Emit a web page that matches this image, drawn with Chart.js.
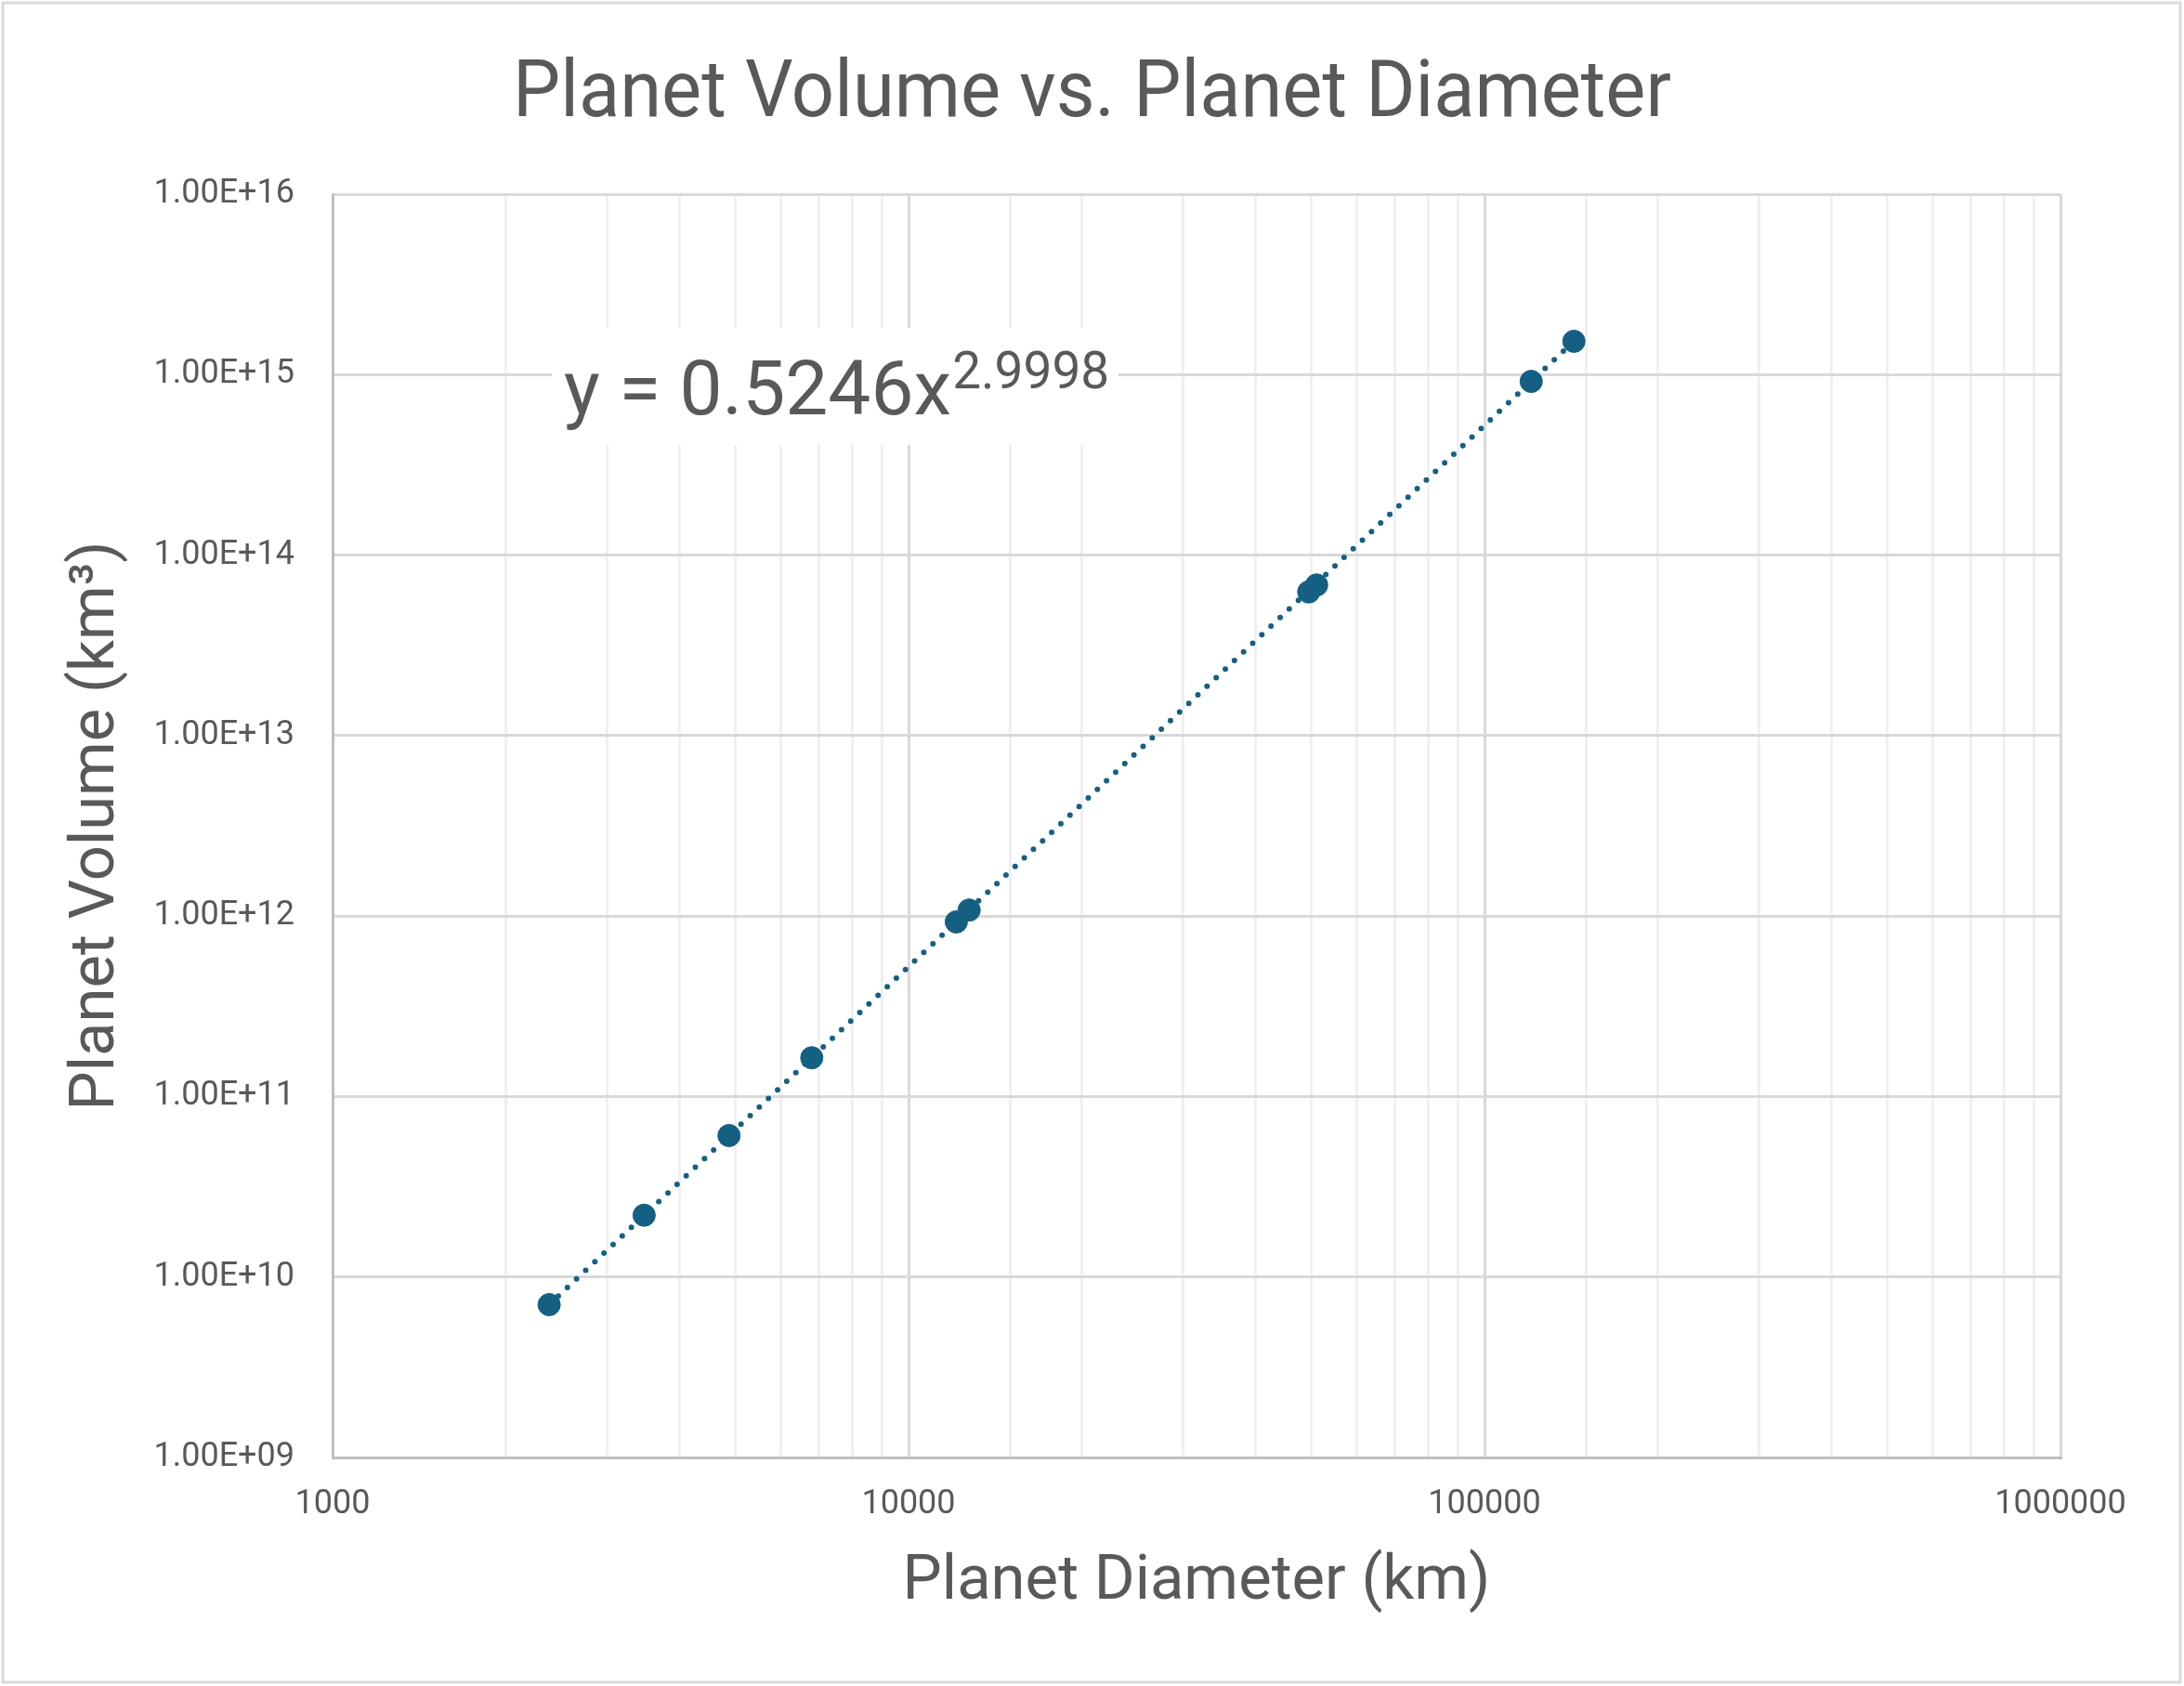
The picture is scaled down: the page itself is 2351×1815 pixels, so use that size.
<!DOCTYPE html>
<html>
<head>
<meta charset="utf-8">
<script src="https://cdn.jsdelivr.net/npm/chart.js@4"></script>
<style>
  html, body { margin: 0; padding: 0; background: #fff; }
  #wrap { width: 2351px; height: 1815px; position: relative; }
</style>
</head>
<body>
<div id="wrap"><canvas id="planetChart"></canvas></div>
<script>
// planets: Pluto, Moon, Mercury, Mars, Venus, Earth, Neptune, Uranus, Saturn, Jupiter
const diameters = [2377, 3475, 4879, 6792, 12104, 12742, 49528, 51118, 120536, 142984];
const volumes = [7.03e9, 2.2e10, 6.08e10, 1.64e11, 9.28e11, 1.08e12, 6.25e13, 6.83e13, 9.17e14, 1.53e15];

// power trendline ends
const trendX = [2377, 142984];
const trendY = [7.03e9, 1.53e15];

const yTicks = [1e9, 1e10, 1e11, 1e12, 1e13, 1e14, 1e15, 1e16];
const xDecades = [1000, 10000, 100000, 1000000];

const chartTitle = 'Planet Volume vs. Planet Diameter';
const equationText = 'y = 0.5246x';
const equationPower = '2.9998';

const textColor = '#595959';
const markColor = '#156082';

function isDecade(v) {
    return xDecades.indexOf(v) !== -1;
}

function sciLabel(v) {
    let exp = Math.round(Math.log10(v));
    let e = exp < 10 ? '0' + exp : '' + exp;
    return '1.00E+' + e;
}

const frame = {
    id: 'frame',
    beforeDraw(chart) {
        let ctx = chart.ctx;
        ctx.save();
        ctx.fillStyle = '#fff';
        ctx.fillRect(0, 0, chart.width, chart.height);
        ctx.strokeStyle = '#d9d9d9';
        ctx.lineWidth = 3;
        ctx.strokeRect(3, 3, chart.width - 7, chart.height - 7);
        // title, centred on the whole chart and a little condensed like the original
        ctx.fillStyle = textColor;
        ctx.font = '85px Roboto';
        ctx.textBaseline = 'alphabetic';
        ctx.textAlign = 'center';
        let w = ctx.measureText(chartTitle).width;
        let squeeze = Math.min(1, 1247 / w);
        ctx.translate(chart.width / 2, 125);
        ctx.scale(squeeze, 1);
        ctx.fillText(chartTitle, 0, 0);
        ctx.restore();
    }
};

const equation = {
    id: 'equation',
    afterDatasetsDraw(chart) {
        let ctx = chart.ctx;
        ctx.save();
        ctx.fillStyle = '#fff';
        ctx.fillRect(594, 353, 610, 126);
        ctx.fillStyle = textColor;
        ctx.textBaseline = 'alphabetic';
        ctx.font = '82px Roboto';
        ctx.fillText(equationText, 607, 446);
        let w = ctx.measureText(equationText).width;
        ctx.font = '55px Roboto';
        ctx.fillText(equationPower, 607 + w + 1, 418);
        ctx.restore();
    }
};

let ctx = document.getElementById('planetChart');
let planetChart = new Chart(ctx, {
    type: 'scatter',
    data: {
        datasets: [
            {
                type: 'line',
                label: 'Power trendline',
                data: trendX.map((x, i) => ({ x: x, y: trendY[i] })),
                borderColor: markColor,
                borderWidth: 6,
                borderDash: [0, 13.5],
                borderCapStyle: 'round',
                pointRadius: 0,
                fill: false
            },
            {
                label: 'Planets',
                data: diameters.map((d, i) => ({ x: d, y: volumes[i] })),
                backgroundColor: markColor,
                borderColor: markColor,
                borderWidth: 1,
                pointRadius: 12
            }
        ]
    },
    options: {
        responsive: true,
        maintainAspectRatio: false,
        animation: false,
        devicePixelRatio: 1,
        layout: { padding: { left: 0, right: 133, top: 209, bottom: 0 } },
        plugins: {
            legend: { display: false },
            tooltip: { enabled: false },
            title: { display: false }
        },
        scales: {
            x: {
                type: 'logarithmic',
                min: 1000,
                max: 1000000,
                grid: {
                    drawTicks: false,
                    lineWidth: 3,
                    color: c => (c.tick && isDecade(c.tick.value)) ? '#d9d9d9' : '#f0f0f0'
                },
                border: { color: '#bfbfbf', width: 3 },
                ticks: {
                    autoSkip: false,
                    maxRotation: 0,
                    padding: 29,
                    color: textColor,
                    font: { family: 'Roboto', size: 36, lineHeight: 1.2 },
                    callback: v => isDecade(v) ? String(v) : ''
                },
                title: {
                    display: true,
                    text: 'Planet Diameter (km)',
                    color: textColor,
                    font: { family: 'Roboto', size: 67, lineHeight: 1.2 },
                    padding: { top: 0, bottom: 71 }
                },
                afterFit: scale => { scale.height = 246; }
            },
            y: {
                type: 'logarithmic',
                min: 1e9,
                max: 1e16,
                afterBuildTicks: scale => {
                    scale.ticks = yTicks.map(v => ({ value: v }));
                },
                grid: {
                    drawTicks: false,
                    lineWidth: 3,
                    color: '#d9d9d9'
                },
                border: { color: '#bfbfbf', width: 3 },
                ticks: {
                    padding: 41,
                    color: textColor,
                    font: { family: 'Roboto', size: 36, lineHeight: 1.2 },
                    callback: v => sciLabel(v)
                },
                title: {
                    display: true,
                    text: 'Planet Volume (km³)',
                    color: textColor,
                    font: { family: 'Roboto', size: 67, lineHeight: 1.2 },
                    padding: { top: 65, bottom: 0 }
                },
                afterFit: scale => { scale.width = 358; }
            }
        }
    },
    plugins: [frame, equation]
});
</script>
</body>
</html>
